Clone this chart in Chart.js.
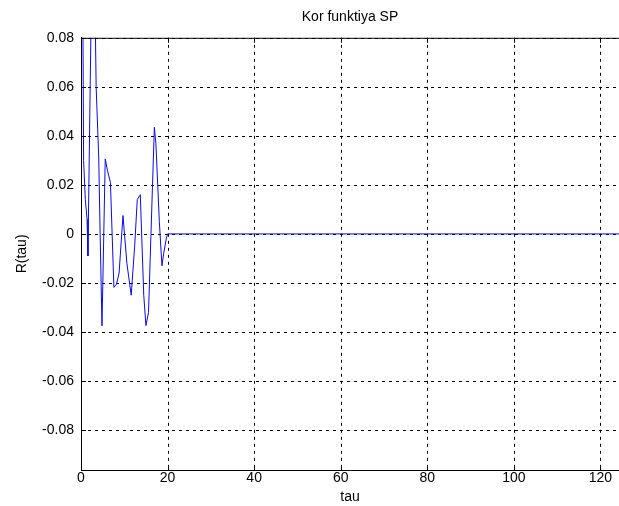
<!DOCTYPE html>
<html>
<head>
    <meta charset="UTF-8">
    <title>Kor funktiya SP</title>
    <script src="https://cdn.jsdelivr.net/npm/chart.js"></script>
    <style>
        body { margin: 0; background: #fff; }
        #wrap { width: 619px; height: 506px; }
    </style>
</head>
<body>
<div id="wrap"><canvas id="c" width="619" height="506"></canvas></div>
<script>
// values (tau, R)
const tau = [0, 0.6, 1.0, 1.4, 1.6, 2.8, 3.5, 4.1, 4.4, 4.85, 5.6, 6.1, 6.8, 7.6, 8.2, 8.8,
             9.7, 10.6, 11.6, 12.4, 13.0, 13.7, 14.5, 15.0, 15.6, 16.4, 16.95, 17.3, 18.1,
             18.7, 19.1, 19.7, 20, 130];
const R = [0.25, 0.03, 0.014, 0.006, -0.009, 0.15, 0.06, 0.031, 0.002, -0.0375, 0.0306, 0.026,
           0.021, -0.0218, -0.0205, -0.016, 0.0075, -0.012, -0.025, -0.005, 0.014, 0.016, -0.025,
           -0.0374, -0.032, 0.013, 0.0435, 0.037, 0.005, -0.013, -0.008, -0.002, 0, 0];
const xTicks = [0, 20, 40, 60, 80, 100, 120];
const yTicks = [-0.08, -0.06, -0.04, -0.02, 0, 0.02, 0.04, 0.06, 0.08];

const font = { family: "'Liberation Sans', Arial, sans-serif", size: 14 };

// dotted grid under the data, then MATLAB style box: top edge and inward tick marks
const boxPlugin = {
    id: 'box',
    beforeDatasetsDraw(chart) {
        const { ctx, chartArea: a, scales } = chart;
        ctx.save();
        ctx.strokeStyle = '#000';
        ctx.lineWidth = 1;
        ctx.setLineDash([3, 4]);
        ctx.beginPath();
        xTicks.forEach(v => {
            if (v === 0) return;
            const px = Math.round(scales.x.getPixelForValue(v)) + 0.5;
            ctx.moveTo(px, a.top); ctx.lineTo(px, a.bottom);
        });
        yTicks.forEach(v => {
            const py = Math.round(scales.y.getPixelForValue(v)) + 0.5;
            ctx.moveTo(a.left, py); ctx.lineTo(a.right, py);
        });
        ctx.stroke();
        ctx.restore();
    },
    afterDraw(chart) {
        const { ctx, chartArea: a, scales } = chart;
        ctx.save();
        ctx.strokeStyle = '#000';
        ctx.lineWidth = 1;
        ctx.beginPath();
        ctx.moveTo(a.left, a.top + 0.5);
        ctx.lineTo(a.right, a.top + 0.5);
        xTicks.forEach(v => {
            const px = Math.round(scales.x.getPixelForValue(v)) + 0.5;
            ctx.moveTo(px, a.bottom); ctx.lineTo(px, a.bottom - 5);
            ctx.moveTo(px, a.top); ctx.lineTo(px, a.top + 5);
        });
        yTicks.forEach(v => {
            const py = Math.round(scales.y.getPixelForValue(v)) + 0.5;
            ctx.moveTo(a.left, py); ctx.lineTo(a.left + 5, py);
        });
        ctx.stroke();
        ctx.restore();
    }
};

new Chart(document.getElementById('c'), {
    type: 'line',
    data: {
        datasets: [{
            data: tau.map((t, i) => ({ x: t, y: R[i] })),
            borderColor: '#0a0af0',
            borderWidth: 1,
            pointRadius: 0,
            tension: 0,
            fill: false
        }]
    },
    options: {
        responsive: false,
        animation: false,
        plugins: {
            legend: { display: false },
            tooltip: { enabled: false },
            title: {
                display: true,
                text: 'Kor funktiya SP',
                color: '#000',
                font: { ...font, weight: 'normal' },
                fullSize: false,
                padding: { top: 9, bottom: 12 }
            }
        },
        scales: {
            x: {
                type: 'linear',
                min: 0,
                max: 124.3,
                afterBuildTicks: s => { s.ticks = xTicks.map(v => ({ value: v })); },
                afterFit: s => { s.height = 36; },
                ticks: { color: '#000', font, padding: 0, maxRotation: 0 },
                grid: { display: false, tickLength: 0 },
                border: { display: true, color: '#000' },
                title: { display: true, text: 'tau', color: '#000', font, padding: 0 }
            },
            y: {
                type: 'linear',
                min: -0.0963,
                max: 0.08,
                afterBuildTicks: s => { s.ticks = yTicks.map(v => ({ value: v })); },
                afterFit: s => { s.width = 81; },
                ticks: {
                    color: '#000', font, padding: 7,
                    callback: v => Math.abs(v) < 1e-9 ? '0' : v.toFixed(2)
                },
                grid: { display: false, tickLength: 0 },
                border: { display: true, color: '#000' },
                title: { display: true, text: 'R(tau)', color: '#000', font, padding: { top: 14, bottom: 0 } }
            }
        }
    },
    plugins: [boxPlugin]
});
</script>
</body>
</html>
